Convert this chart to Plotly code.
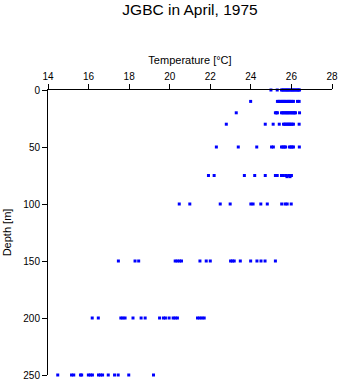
import plotly.graph_objects as go

# Temperature readings (°C) at each sampling depth
t_0m = [24.99, 25.30, 25.51, 25.57, 25.63, 25.69, 25.75, 25.81, 25.87, 25.93,
        25.99, 26.05, 26.11, 26.17, 26.23, 26.29, 26.35, 26.40]
t_10m = [23.99, 25.31, 25.37, 25.43, 25.49, 25.55, 25.61, 25.67, 25.73, 25.79,
         25.85, 25.91, 25.97, 26.03, 26.10, 26.30, 26.38]
t_20m = [23.28, 25.21, 25.26, 25.31, 25.51, 25.57, 25.63, 25.69, 25.75, 25.81,
         25.87, 25.93, 25.99, 26.05, 26.11, 26.16, 26.20, 26.40]
t_30m = [22.79, 24.71, 25.10, 25.40, 25.61, 25.67, 25.73, 25.79, 25.85, 25.91,
         25.97, 26.03, 26.10, 26.38]
t_50m = [22.30, 23.38, 24.29, 25.02, 25.11, 25.51, 25.58, 25.65, 25.71, 25.90,
         25.97, 26.03, 26.10, 26.39]
t_75m = [21.91, 22.19, 23.68, 24.19, 24.71, 25.21, 25.30, 25.51, 25.56, 25.71,
         25.86, 26.00]
t_76m = [25.78, 25.93]
t_100m = [20.47, 20.99, 22.49, 22.98, 24.00, 24.11, 24.49, 24.81, 25.52, 25.69,
          25.79, 25.99]
t_150m = [17.47, 18.29, 18.47, 20.27, 20.37, 20.48, 20.58, 21.49, 21.80, 22.00,
          23.00, 23.09, 23.18, 23.48, 23.99, 24.30, 24.50, 24.70, 25.21]
t_200m = [16.18, 16.48, 17.59, 17.69, 17.80, 18.19, 18.59, 18.79, 19.50, 19.69,
          19.79, 19.97, 20.17, 20.27, 20.38, 21.37, 21.48, 21.59, 21.70]
t_250m = [14.48, 15.16, 15.27, 15.60, 15.66, 15.99, 16.09, 16.19, 16.49, 16.59,
          16.69, 16.97, 17.28, 17.46, 17.98, 19.20]

profiles = [
    (0, t_0m), (10, t_10m), (20, t_20m), (30, t_30m), (50, t_50m),
    (75, t_75m), (76, t_76m), (100, t_100m), (150, t_150m), (200, t_200m),
    (250, t_250m),
]

temps = []
depths = []
for depth, values in profiles:
    temps.extend(values)
    depths.extend([depth] * len(values))

FONT = "Liberation Sans, Arial, sans-serif"

fig = go.Figure(
    go.Scatter(
        x=temps,
        y=depths,
        mode="markers",
        marker=dict(symbol="square", size=3, color="#0000ff", line=dict(width=0)),
        cliponaxis=False,
        hoverinfo="x+y",
    )
)

axis_common = dict(
    showline=True,
    linecolor="black",
    linewidth=1,
    ticks="outside",
    ticklen=5,
    tickwidth=1,
    tickcolor="black",
    showgrid=False,
    zeroline=False,
    automargin=False,
    tickfont=dict(family=FONT, size=10, color="black"),
    title_font=dict(family=FONT, size=11, color="black"),
)

fig.update_layout(
    width=341,
    height=384,
    margin=dict(l=48, r=9, t=90, b=9),
    paper_bgcolor="white",
    plot_bgcolor="white",
    showlegend=False,
    title=dict(
        text="JGBC in April, 1975",
        x=0.5,
        xref="paper",
        xanchor="center",
        y=1 - 10 / 384,
        yref="container",
        yanchor="middle",
        font=dict(family=FONT, size=15.5, color="black"),
    ),
    xaxis=dict(
        side="top",
        range=[14, 28],
        tickvals=[14, 16, 18, 20, 22, 24, 26, 28],
        title=dict(text="Temperature [°C]", standoff=4),
        **axis_common,
    ),
    yaxis=dict(
        range=[250, 0],
        tickvals=[0, 50, 100, 150, 200, 250],
        title=dict(text="Depth [m]", standoff=9),
        **axis_common,
    ),
)

fig.write_html("out.html")
